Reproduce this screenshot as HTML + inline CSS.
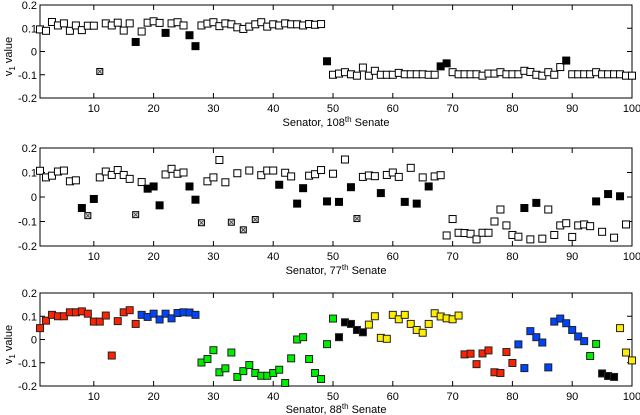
<!DOCTYPE html>
<html><head><meta charset="utf-8">
<style>
html,body{margin:0;padding:0;background:#fff;}
svg{display:block;font-family:"Liberation Sans",sans-serif;}
</style></head>
<body>
<svg id="chart" width="640" height="415" viewBox="0 0 640 415" xmlns="http://www.w3.org/2000/svg"></svg>
<script>
const xTicks = [10,20,30,40,50,60,70,80,90,100];
const yTicks = [0.2,0.1,0,-0.1,-0.2];
const yTickLabels = ["0.2","0.1","0","-0.1","-0.2"];

const v108 = [0.095,0.089,0.127,0.112,0.121,0.089,0.112,0.092,0.111,0.111,-0.086,0.121,0.112,0.124,0.09,0.121,0.041,0.086,0.124,0.13,0.123,0.08,0.121,0.126,0.112,0.07,0.023,0.112,0.12,0.126,0.109,0.121,0.117,0.104,0.097,0.107,0.117,0.126,0.107,0.117,0.112,0.121,0.117,0.117,0.112,0.118,0.115,0.118,
-0.042,-0.1,-0.095,-0.089,-0.098,-0.104,-0.069,-0.104,-0.083,-0.1,-0.1,-0.1,-0.092,-0.098,-0.098,-0.098,-0.098,-0.1,-0.1,-0.064,-0.051,-0.089,-0.098,-0.098,-0.098,-0.098,-0.104,-0.095,-0.095,-0.089,-0.098,-0.098,-0.098,-0.083,-0.088,-0.1,-0.104,-0.089,-0.1,-0.067,-0.039,-0.098,-0.098,-0.098,-0.098,-0.089,-0.098,-0.098,-0.098,-0.098,-0.104,-0.104];
const black108 = [17,22,26,27,49,68,69,89];
const cross108 = [11];

const v77 = [0.107,0.08,0.087,0.104,0.108,0.064,0.068,-0.045,-0.076,-0.008,0.08,0.104,0.09,0.11,0.09,0.074,-0.072,0.061,0.034,0.043,-0.034,0.092,0.115,0.095,0.1,0.043,-0.011,-0.105,0.064,0.08,0.151,0.06,-0.103,0.097,-0.134,0.108,-0.092,0.089,0.108,0.108,0.05,0.099,0.084,-0.027,0.036,0.087,0.093,0.11,-0.018,0.095,
-0.02,0.153,0.04,-0.088,0.082,0.088,0.085,0.016,0.09,0.1,0.082,-0.02,0.119,-0.027,0.08,0.043,0.084,0.089,-0.157,-0.09,-0.146,-0.147,-0.15,-0.173,-0.146,-0.146,-0.1,-0.051,-0.116,-0.155,-0.162,-0.045,-0.173,-0.024,-0.17,-0.051,-0.155,-0.116,-0.107,-0.163,-0.116,-0.112,-0.119,-0.018,-0.142,0.012,-0.166,0.003,-0.112,null];
const black77 = [8,10,19,20,21,26,27,41,44,45,49,51,53,58,62,64,66,82,84,94,96,98];
const cross77 = [9,17,28,33,35,37,54];

const v88 = [0.049,0.081,0.106,0.1,0.1,0.117,0.117,0.121,0.111,0.077,0.077,0.103,-0.069,0.079,0.117,0.126,0.067,0.106,0.097,0.111,0.086,0.111,0.091,0.114,0.117,0.116,0.106,-0.099,-0.084,-0.046,-0.141,-0.124,-0.056,-0.161,-0.136,-0.11,-0.144,-0.156,-0.156,-0.144,-0.13,-0.187,-0.081,0,0.01,-0.084,-0.144,-0.17,-0.02,0.09,
0.01,0.074,0.067,0.041,0.031,0.064,0.1,0.007,0.003,0.106,0.087,0.106,0.067,0.041,0.029,0.067,0.113,0.099,0.091,0.087,0.103,-0.064,-0.061,-0.106,-0.06,-0.047,-0.141,-0.144,-0.054,-0.101,-0.021,-0.123,0.036,0.01,-0.013,-0.12,0.077,0.09,0.07,0.041,0.013,-0.007,-0.071,-0.019,-0.146,-0.157,-0.161,0.049,-0.056,-0.09];
// group ranges: [first senator, last senator, group]
const groups88 = [[1,17,"r"],[18,27,"b"],[28,50,"g"],[51,55,"k"],[56,71,"y"],[72,80,"r"],[81,92,"b"],[93,94,"g"],[95,97,"k"],[98,100,"y"]];
const groupColors = {r:"#ff2200", b:"#0044ff", g:"#00ee00", k:"#000000", y:"#ffee00"};

const svg = document.getElementById('chart');
const NS = "http://www.w3.org/2000/svg";
function mk(tag, attrs, parent){ const e=document.createElementNS(NS,tag); for(const k in attrs) e.setAttribute(k,attrs[k]); (parent||svg).appendChild(e); return e; }

const L=40, R=632;
function xScale(v){ return L + (v-1)*(R-L)/99; }
function groupOf(n){ for(const r of groups88){ if(n>=r[0]&&n<=r[1]) return r[2]; } return "k"; }

const panels = [
 {top:5, bot:98, vals:v108, black:black108, cross:cross108, title:"108", ylab:true, name:"senate-108"},
 {top:148, bot:246, vals:v77, black:black77, cross:cross77, title:"77", ylab:false, name:"senate-77"},
 {top:293, bot:386, vals:v88, colored:true, title:"88", ylab:true, name:"senate-88"}
];

panels.forEach(p=>{
  const g = mk('g',{});
  
  
  const yScale = v => p.top + (0.2 - v)*(p.bot-p.top)/0.4;
  const box = mk('rect',{x:L,y:p.top,width:R-L,height:p.bot-p.top,fill:"#fff",stroke:"#000","stroke-width":1},g);
  
  
  xTicks.forEach(t=>{
    const x = xScale(t);
    mk('line',{x1:x,x2:x,y1:p.bot,y2:p.bot-5,stroke:"#000"},g);
    mk('line',{x1:x,x2:x,y1:p.top,y2:p.top+5,stroke:"#000"},g);
    const tx = mk('text',{x:x,y:p.bot+14,"font-size":11,"text-anchor":"middle",fill:"#000"},g);
    tx.textContent = t;
    
    
  });
  yTicks.forEach((t,i)=>{
    const y = yScale(t);
    mk('line',{x1:L,x2:L+5,y1:y,y2:y,stroke:"#000"},g);
    mk('line',{x1:R,x2:R-5,y1:y,y2:y,stroke:"#000"},g);
    const ty = mk('text',{x:L-3,y:y+4,"font-size":11,"text-anchor":"end",fill:"#000"},g);
    ty.textContent = yTickLabels[i];
    
    
  });
  const tt = mk('text',{x:336,y:Math.min(p.bot+28,413),"font-size":11,"text-anchor":"middle",fill:"#000"},g);
  tt.innerHTML = 'Senator, '+p.title+'<tspan dy="-4" font-size="8">th</tspan><tspan dy="4"> Senate</tspan>';
  
  
  if(p.ylab){
    const cy = (p.top+p.bot)/2+5;
    const yl = mk('text',{x:0,y:0,"font-size":11,"text-anchor":"middle",fill:"#000",transform:`translate(12,${cy}) rotate(-90)`},g);
    yl.innerHTML = 'v<tspan dy="3" font-size="8">1</tspan><tspan dy="-3"> value</tspan>';
    
    
  }
  p.vals.forEach((v,i)=>{
    if(v===null) return;
    const n = i+1;
    const cx = xScale(n), cy = yScale(v);
    let fill="#fff", s=7, crossed=false;
    if(p.colored){ fill = groupColors[groupOf(n)]; }
    else if(p.black.includes(n)){ fill="#000"; }
    else if(p.cross.includes(n)){ fill="#ddd"; s=6; crossed=true; }
    const m = mk('rect',{x:cx-s/2,y:cy-s/2,width:s,height:s,fill:fill,stroke:p.colored?"#222":"#000","stroke-width":1},g);
    
    
    if(crossed){
      mk('path',{d:`M${cx-2},${cy-2}L${cx+2},${cy+2}M${cx+2},${cy-2}L${cx-2},${cy+2}`,stroke:"#333","stroke-width":0.8},g);
    }
  });
});
</script>
</body></html>
